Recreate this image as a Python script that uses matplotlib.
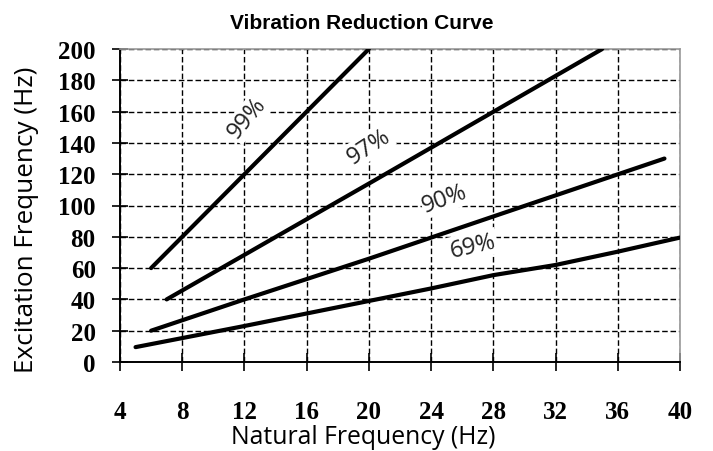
import matplotlib
matplotlib.use("Agg")
import matplotlib.pyplot as plt
from matplotlib.ticker import FixedLocator

# ---- data ----
x99 = [6, 12, 16, 20]
y99 = [60, 120, 160, 200]
x97 = [7, 20, 35]
y97 = [40, 114, 200]
x90 = [6, 12, 20, 28, 39]
y90 = [20, 40, 66, 93, 130]
x69 = [5, 12, 20, 24, 28, 32, 36, 40]
y69 = [9.5, 23, 39, 47, 55.5, 62, 70.5, 79.5]

curve_labels = ["99%", "97%", "90%", "69%"]
label_x = [12.2, 20.0, 24.9, 26.7]
label_y = [156, 138, 104.5, 74.4]
label_rot = [50, 33, 20, 13]

x_ticks = [4, 8, 12, 16, 20, 24, 28, 32, 36, 40]
y_ticks = [0, 20, 40, 60, 80, 100, 120, 140, 160, 180, 200]

title = "Vibration Reduction Curve"
xlabel = "Natural Frequency (Hz)"
ylabel = "Excitation Frequency (Hz)"

# ---- figure ----
fig = plt.figure(figsize=(7.13, 4.52), dpi=100)
ax = fig.add_axes([120/713, 1-363/452, 560/713, 313/452])

for xs, ys in [(x99, y99), (x97, y97), (x90, y90), (x69, y69)]:
    ax.plot(xs, ys, color="black", lw=3.0, solid_capstyle="round", zorder=3)

ax.set_xlim(4, 40)
ax.set_ylim(0, 200)
ax.xaxis.set_major_locator(FixedLocator(x_ticks))
ax.yaxis.set_major_locator(FixedLocator(y_ticks))
ax.set_xticklabels([str(v) for v in x_ticks])
ax.set_yticklabels([str(v) for v in y_ticks])

ax.grid(True, color="black", linestyle=(0, (4, 2)), linewidth=1.0, zorder=1)
ax.set_axisbelow(True)

serif = ["Liberation Serif", "DejaVu Serif"]
for lab in ax.get_xticklabels() + ax.get_yticklabels():
    lab.set_family(serif)
    lab.set_fontweight("bold")
    lab.set_fontsize(18)

ax.tick_params(axis="x", direction="inout", length=13, width=1.2, pad=21, color="black")
ax.tick_params(axis="y", direction="inout", length=11, width=1.2, pad=12, color="black")

ax.spines["left"].set_color("black")
ax.spines["left"].set_linewidth(1.4)
ax.spines["bottom"].set_color("black")
ax.spines["bottom"].set_linewidth(1.4)
ax.spines["top"].set_color("#999999")
ax.spines["right"].set_color("#999999")
ax.spines["top"].set_linewidth(1.2)
ax.spines["right"].set_linewidth(1.2)

sans = ["Open Sans", "DejaVu Sans"]
ax.set_xlabel(xlabel, family=sans, fontsize=17.8)
ax.set_ylabel(ylabel, family=sans, fontsize=18.8)
ax.xaxis.label.set_va("center")
ax.yaxis.label.set_va("center")
ax.xaxis.set_label_coords(0.434, -0.238)
ax.yaxis.set_label_coords(-0.167, 0.457)

fig.text(0.508, 0.947, title, ha="center", va="center",
         family=["Liberation Sans", "DejaVu Sans"],
         fontweight="bold", fontsize=15)

for t, lx, ly, r in zip(curve_labels, label_x, label_y, label_rot):
    ax.text(lx, ly, t, ha="center", va="center", rotation=r, family=sans,
            fontsize=17, color="#222222", zorder=4,
            bbox=dict(facecolor="white", edgecolor="none", pad=1.0))

fig.savefig("out.png", dpi=100)
